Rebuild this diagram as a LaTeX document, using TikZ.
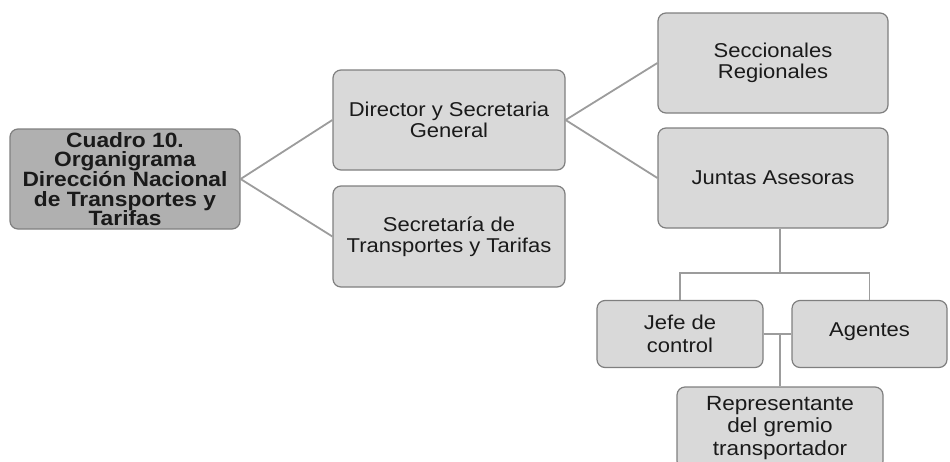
\documentclass[tikz,border=0pt]{standalone}
\usepackage{fontspec}
\setmainfont{Liberation Sans}[FakeStretch=1.1]
\usepackage{tikz}
\definecolor{boxgray}{HTML}{D9D9D9}
\definecolor{rootgray}{HTML}{B0B0B0}
\definecolor{edgegray}{HTML}{7F7F7F}
\definecolor{linegray}{HTML}{9C9C9C}
\definecolor{txt}{HTML}{1A1A1A}

\begin{document}
\begin{tikzpicture}[x=1pt,y=-1pt,
	box/.style={draw=edgegray,line width=1.2pt,fill=boxgray,rounded corners=8pt,
		text=txt,align=center,inner sep=0pt,font=\fontsize{20}{20.5}\selectfont},
	rootbox/.style={box,fill=rootgray,font=\fontsize{20.7}{19.7}\selectfont\bfseries},
	link/.style={draw=linegray,line width=1.8pt}]
	\useasboundingbox (0,0) rectangle (950,461);
	\clip (0,0) rectangle (950,461);
	% boxes
	\node[rootbox,minimum width=230pt,minimum height=100pt] (root) at (125,179)
		{Cuadro 10.\\Organigrama\\Dirección Nacional\\de Transportes y\\Tarifas};
	\node[box,minimum width=232pt,minimum height=100pt] (dir) at (449,120)
		{Director y Secretaria\\General};
	\node[box,minimum width=232pt,minimum height=101pt] (sec) at (449,236.5)
		{Secretaría de\\Transportes y Tarifas};
	\node[box,minimum width=230pt,minimum height=100pt] (secc) at (773,63)
		{Seccionales\\Regionales};
	\node[box,minimum width=230pt,minimum height=100pt] (juntas) at (773,178)
		{Juntas Asesoras};
	\node[box,minimum width=166pt,minimum height=67pt,font=\fontsize{20}{23}\selectfont] (jefe) at (680,334)
		{Jefe de\\control};
	\node[box,minimum width=155pt,minimum height=67pt] (agentes) at (869.5,334)
		{\raisebox{8pt}{Agentes}};
	\node[box,minimum width=206pt,minimum height=82pt,font=\fontsize{20.5}{22.5}\selectfont] (rep) at (780,428)
		{Representante\\del gremio\\transportador};
	% lines
	\coordinate (bus) at (780,273);
	\draw[link] (root.east) -- (dir.west);
	\draw[link] (root.east) -- (sec.west);
	\draw[link] (dir.east) -- (secc.west);
	\draw[link] (dir.east) -- (juntas.west);
	\draw[link] (rep.north |- juntas.south) -- (bus);
	\draw[link] (jefe.north) |- (bus) -| (agentes.north);
	\draw[link] (jefe.east) -- (agentes.west);
	\draw[link] (rep.north) -- (rep.north |- jefe.east);
\end{tikzpicture}
\end{document}
